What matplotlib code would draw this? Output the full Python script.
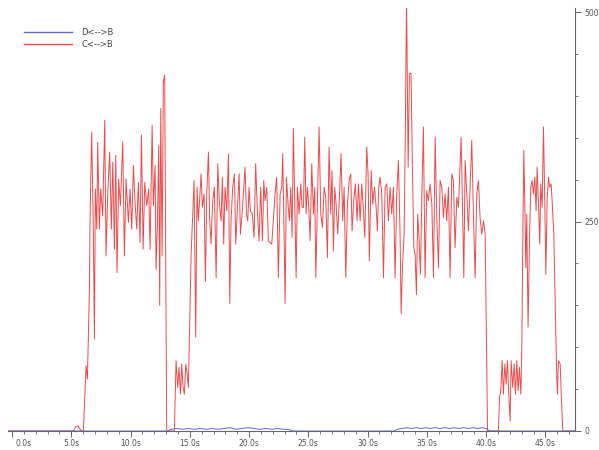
import matplotlib
matplotlib.use("Agg")
import matplotlib.pyplot as plt
import matplotlib.transforms as mtransforms
from matplotlib.ticker import MultipleLocator
import numpy as np

# ---------------- data (time in s, value) ----------------
series_names = ["D<-->B", "C<-->B"]

# C<-->B, block 0: baseline and small bump before first burst
red0_t = [-0.4, 5.2, 5.35, 5.55, 5.75, 5.9]
red0_v = [0, 0, 5, 6, 2, 0]

# block 1: first burst
red1_t = [6.02, 6.25, 6.36, 6.53, 6.58, 6.72, 6.86, 6.95, 7.03, 7.15, 7.23, 7.37, 7.48,
          7.65, 7.82, 7.93, 8.07, 8.24, 8.38, 8.50, 8.64, 8.75, 8.86, 9.00, 9.14, 9.34,
          9.48, 9.62, 9.82, 9.96, 10.10, 10.24, 10.38, 10.52, 10.66, 10.80, 10.92, 11.06,
          11.20, 11.37, 11.53, 11.65, 11.82, 11.93, 12.07, 12.15, 12.27, 12.38, 12.46,
          12.55, 12.66, 12.77, 12.88, 13.05]
red1_v = [0, 78, 62, 170, 249, 357, 241, 110, 289, 241, 345, 241, 289,
          257, 371, 209, 281, 333, 241, 321, 217, 329, 189, 301, 269, 345,
          209, 301, 249, 289, 241, 317, 273, 241, 297, 225, 353, 217,
          297, 269, 289, 217, 365, 269, 317, 193, 249, 341, 150,
          385, 209, 417, 425, 0]

# block 2: long burst (13.7 s .. 21.7 s)
red2_t = [13.70, 13.84, 13.98, 14.09, 14.21, 14.32, 14.43, 14.54, 14.66, 14.77, 14.88,
          15.11, 15.27, 15.36, 15.50, 15.61, 15.72, 15.84, 15.95, 16.06, 16.20, 16.32,
          16.43, 16.57, 16.68, 16.79, 16.93, 17.07, 17.22, 17.36, 17.50, 17.64, 17.75,
          17.86, 17.97, 18.12, 18.26, 18.37, 18.48, 18.62, 18.76, 18.88, 19.02, 19.16,
          19.27, 19.41, 19.55, 19.66, 19.78, 19.89, 20.00, 20.11, 20.28, 20.42, 20.56,
          20.70, 20.84, 20.98, 21.13, 21.24, 21.35, 21.49, 21.63]
red2_v = [0, 84, 52, 76, 44, 80, 52, 44, 80, 68, 52,
          211, 267, 299, 112, 291, 251, 279, 307, 267, 283, 179,
          283, 333, 251, 223, 275, 291, 183, 319, 271, 251, 303,
          223, 291, 263, 331, 152, 251, 291, 307, 223, 267, 307,
          235, 259, 291, 315, 259, 251, 291, 263, 259, 231, 319,
          263, 227, 291, 227, 299, 275, 291, 227]

# block 3: 21.9 s .. 31 s
red3_t = [21.91, 22.05, 22.19, 22.33, 22.47, 22.62, 22.76, 22.84, 22.95, 23.04, 23.15,
          23.29, 23.40, 23.52, 23.63, 23.74, 23.85, 23.97, 24.08, 24.22, 24.36, 24.47,
          24.59, 24.70, 24.81, 24.92, 25.04, 25.15, 25.29, 25.43, 25.54, 25.63, 25.77,
          25.91, 26.05, 26.19, 26.33, 26.47, 26.61, 26.75, 26.89, 27.00, 27.12, 27.23,
          27.34, 27.48, 27.62, 27.76, 27.90, 28.02, 28.16, 28.30, 28.44, 28.58, 28.69,
          28.83, 28.97, 29.11, 29.23, 29.37, 29.51, 29.65, 29.76, 29.93, 30.04, 30.15,
          30.30, 30.44, 30.58, 30.72, 30.83, 30.94]
red3_v = [223, 251, 283, 303, 183, 283, 291, 331, 239, 152, 303,
          271, 251, 291, 231, 361, 275, 183, 291, 259, 295, 267,
          267, 351, 259, 291, 267, 227, 319, 259, 291, 183, 271,
          363, 259, 243, 291, 279, 207, 339, 259, 311, 215, 291,
          271, 235, 279, 331, 251, 291, 183, 271, 299, 307, 239,
          275, 295, 251, 295, 251, 295, 263, 231, 339, 307, 203,
          311, 271, 291, 267, 239, 291]

# block 4: 31 s .. 40 s (contains the tallest peak)
red4_t = [31.05, 31.20, 31.34, 31.48, 31.62, 31.76, 31.90, 32.04, 32.18, 32.32, 32.46,
          32.60, 32.74, 32.83, 32.94, 33.08, 33.19, 33.28, 33.33, 33.42, 33.53, 33.67,
          33.78, 33.90, 34.01, 34.12, 34.23, 34.35, 34.46, 34.57, 34.71, 34.85, 34.99,
          35.13, 35.27, 35.42, 35.56, 35.70, 35.84, 35.98, 36.12, 36.26, 36.40, 36.54,
          36.68, 36.82, 36.96, 37.10, 37.24, 37.38, 37.53, 37.67, 37.89, 38.00, 38.12,
          38.23, 38.37, 38.51, 38.65, 38.79, 38.93, 39.07, 39.21, 39.35, 39.49, 39.63,
          39.78, 39.92, 40.12, 41.04]
red4_v = [303, 283, 183, 291, 295, 251, 291, 259, 291, 183, 283,
          323, 235, 140, 195, 235, 363, 510, 455, 315, 427, 427,
          315, 219, 211, 163, 259, 227, 187, 275, 363, 183, 287,
          275, 295, 271, 183, 351, 255, 195, 299, 291, 255, 283,
          251, 291, 183, 307, 299, 219, 279, 267, 351, 275, 183,
          323, 283, 239, 291, 347, 259, 183, 283, 299, 255, 235,
          251, 235, 0, 0]

# block 5: small burst and final burst
red5_t = [41.13, 41.24, 41.35, 41.46, 41.58, 41.69, 41.80, 41.91, 42.03, 42.11, 42.25,
          42.36, 42.48, 42.59, 42.70, 42.81, 42.93, 43.01, 43.10, 43.18, 43.26, 43.35,
          43.43, 43.54, 43.66, 43.77, 43.88, 43.99, 44.11, 44.22, 44.30, 44.42, 44.53,
          44.61, 44.73, 44.84, 44.95, 45.04, 45.15, 45.26, 45.37, 45.49, 45.60, 45.71,
          45.82, 45.94, 46.02, 46.10, 46.25, 46.36, 46.47, 47.6]
red5_v = [40, 48, 84, 44, 80, 56, 84, 44, 12, 84, 52,
          80, 44, 84, 48, 76, 44, 96, 235, 335, 275, 195,
          259, 124, 227, 291, 299, 283, 303, 263, 315, 271, 223,
          295, 267, 363, 275, 187, 275, 303, 291, 295, 267, 235,
          156, 76, 44, 84, 80, 36, 0, 0]

# D<-->B (stays close to zero)
blue_t = [-0.4, 13.1, 13.4, 13.9, 14.4, 14.9, 15.4, 15.9, 16.4, 16.9, 17.4, 17.9, 18.4,
          18.9, 19.4, 19.9, 20.4, 20.9, 21.4, 21.9, 22.4, 22.9, 23.3, 23.7, 32.2, 32.5,
          32.9, 33.3, 33.7, 34.1, 34.5, 34.9, 35.3, 35.7, 36.1, 36.5, 36.9, 37.3, 37.7,
          38.1, 38.5, 38.9, 39.3, 39.7, 40.0, 40.3, 47.6]
blue_v = [0, 0, 2, 3, 2, 3, 2, 3, 2, 3, 2, 3, 4,
          2, 3, 4, 3, 2, 3, 2, 3, 2, 2, 0, 0, 2,
          3, 4, 3, 4, 3, 4, 3, 4, 3, 4, 3, 4, 3,
          4, 3, 4, 3, 4, 3, 0, 0]

y_ticks = [0, 250, 500]
x_ticks = [0, 5, 10, 15, 20, 25, 30, 35, 40, 45]
x_tick_labels = ["0.0s", "5.0s", "10.0s", "15.0s", "20.0s", "25.0s", "30.0s",
                 "35.0s", "40.0s", "45.0s"]

# ---------------- figure ----------------
red_t = red0_t + red1_t + red2_t + red3_t + red4_t + red5_t
red_v = red0_v + red1_v + red2_v + red3_v + red4_v + red5_v

fig = plt.figure(figsize=(5.99, 4.50), dpi=100)
ax = fig.add_axes([8 / 599, 1 - 431 / 450, 567 / 599, 423 / 450])

red_color = "#ef4a4a"
blue_color = "#6068dc"
l_red, = ax.plot(red_t, red_v, color=red_color, lw=0.7, zorder=2)
l_blue, = ax.plot(blue_t, blue_v, color=blue_color, lw=0.7, zorder=3)

ax.set_xlim(-0.34, 47.5)
ax.set_ylim(0, 505)

for s in ["left", "top"]:
    ax.spines[s].set_visible(False)
for s in ["bottom", "right"]:
    ax.spines[s].set_color("#666666")
    ax.spines[s].set_linewidth(0.8)

ax.yaxis.tick_right()
ax.set_yticks(y_ticks)
ax.set_yticklabels([str(v) for v in y_ticks])
ax.yaxis.set_minor_locator(MultipleLocator(50))
ax.set_xticks(x_ticks)
ax.set_xticklabels(x_tick_labels)
ax.xaxis.set_minor_locator(MultipleLocator(1))

ax.tick_params(axis="x", which="major", labelsize=5.5, colors="#666666",
               labelcolor="#555555", length=4, width=0.7, direction="out", pad=1.5)
ax.tick_params(axis="y", which="major", labelsize=5.5, colors="#666666",
               labelcolor="#555555", length=4, width=0.7, direction="out", pad=2.5)
ax.tick_params(axis="both", which="minor", length=2, width=0.6, colors="#666666",
               direction="out")

# first x label is shifted inward in the original
lab0 = ax.get_xticklabels()[0]
lab0.set_transform(lab0.get_transform() +
                   mtransforms.ScaledTranslation(12 / 100, 0, fig.dpi_scale_trans))

leg = ax.legend([l_blue, l_red], series_names, loc="upper left",
                bbox_to_anchor=(13 / 567, 1 - 17 / 423), frameon=False,
                fontsize=6, handlelength=5.7, handletextpad=1.1, labelspacing=0.35,
                borderaxespad=0)
for t in leg.get_texts():
    t.set_color("#444444")
for h in leg.get_lines():
    h.set_linewidth(1.0)

fig.savefig("out.png", dpi=100)
